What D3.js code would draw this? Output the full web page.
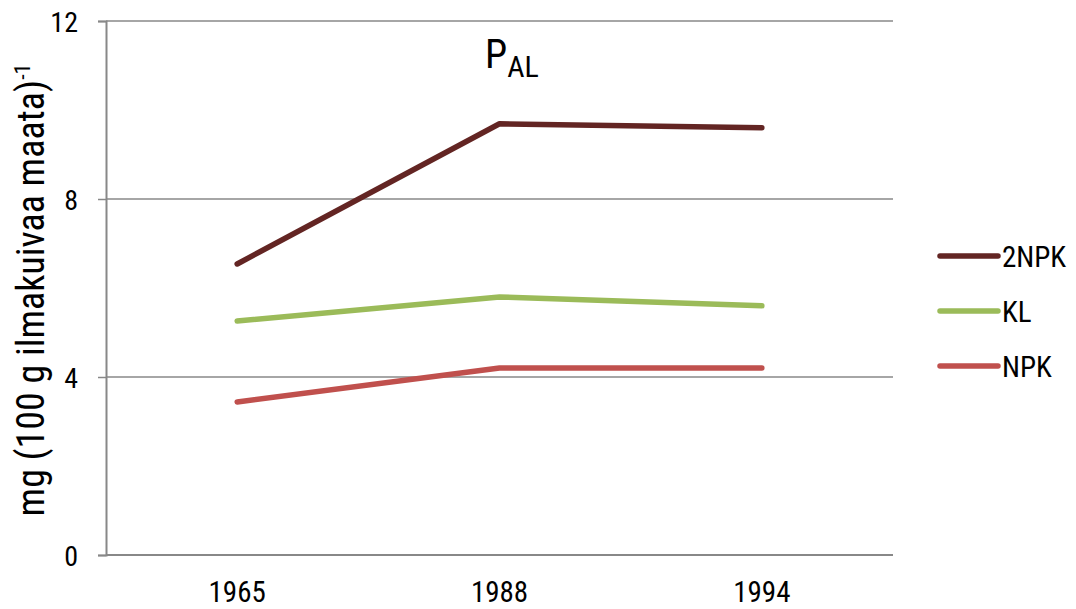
<!DOCTYPE html>
<html><head><meta charset="utf-8">
<script src="https://cdn.jsdelivr.net/npm/d3@7"></script>
<style>body{margin:0;background:#fff;} text{font-family:"Liberation Sans Narrow","Roboto Condensed","Liberation Sans",sans-serif;fill:#000;}</style>
</head><body>
<svg id="c" width="1076" height="609"></svg>
<script>
const categories = ["1965","1988","1994"];
const seriesNames = ["2NPK","KL","NPK"];
const series2NPK = [6.54, 9.69, 9.6];
const seriesKL = [5.26, 5.8, 5.6];
const seriesNPK = [3.44, 4.2, 4.2];
const yTicks = [0,4,8,12];
const colors = ["#632523","#9BBB59","#C0504D"];
const allSeries = [series2NPK, seriesKL, seriesNPK];

(function(){
const svg = d3.select("#c");
const pL=106, pR=893, pT=21, pB=555;
const x = d3.scaleBand().domain(categories).range([pL,pR]);
const y = d3.scaleLinear().domain([0,12]).range([pB,pT]);

svg.append("g").selectAll("line").data(yTicks.filter(d=>d>0)).join("line")
  .attr("x1",pL).attr("x2",pR).attr("y1",d=>y(d)).attr("y2",d=>y(d))
  .attr("stroke","#888").attr("stroke-width",1.5);

const ya = svg.append("g").attr("transform",`translate(${pL},0)`)
  .call(d3.axisLeft(y).tickValues(yTicks).tickSize(8).tickPadding(20));
ya.select(".domain").attr("stroke","#888").attr("stroke-width",2);
ya.selectAll(".tick line").attr("stroke","#888").attr("stroke-width",1.5);
ya.selectAll(".tick text").style("font-size","28px").attr("fill","#000").attr("dy","0.36em");

const xa = svg.append("g").attr("transform",`translate(0,${pB})`)
  .call(d3.axisBottom(x).tickSize(0).tickPadding(26));
xa.select(".domain").attr("stroke","#888").attr("stroke-width",2).attr("d",`M${pL},0H${pR}`);
xa.selectAll(".tick text").style("font-size","29px").attr("fill","#000");

const line = d3.line().x((d,i)=>x(categories[i])+x.bandwidth()/2).y(d=>y(d));
allSeries.forEach((s,k)=>{
  svg.append("path").datum(s).attr("d",line).attr("fill","none")
    .attr("stroke",colors[k]).attr("stroke-width",5.5).attr("stroke-linecap","round").attr("stroke-linejoin","round");
});

const t = svg.append("text").attr("x",485).attr("y",68).style("font-size","40px");
t.append("tspan").text("P");
t.append("tspan").attr("dy",9).style("font-size","30px").text("AL");

svg.append("text").attr("transform","translate(44,290) rotate(-90)").attr("text-anchor","middle")
  .style("font-size","38px").text("mg (100 g ilmakuivaa maata)")
  .append("tspan").attr("dy",-14).style("font-size","22px").text("-1");

seriesNames.forEach((n,k)=>{
  const ly = 256 + k*55;
  svg.append("line").attr("x1",940).attr("x2",998).attr("y1",ly).attr("y2",ly)
    .attr("stroke",colors[k]).attr("stroke-width",5.5).attr("stroke-linecap","round");
  svg.append("text").attr("x",1002).attr("y",ly+11).style("font-size","29px").text(n);
});
})();
</script>
</body></html>
